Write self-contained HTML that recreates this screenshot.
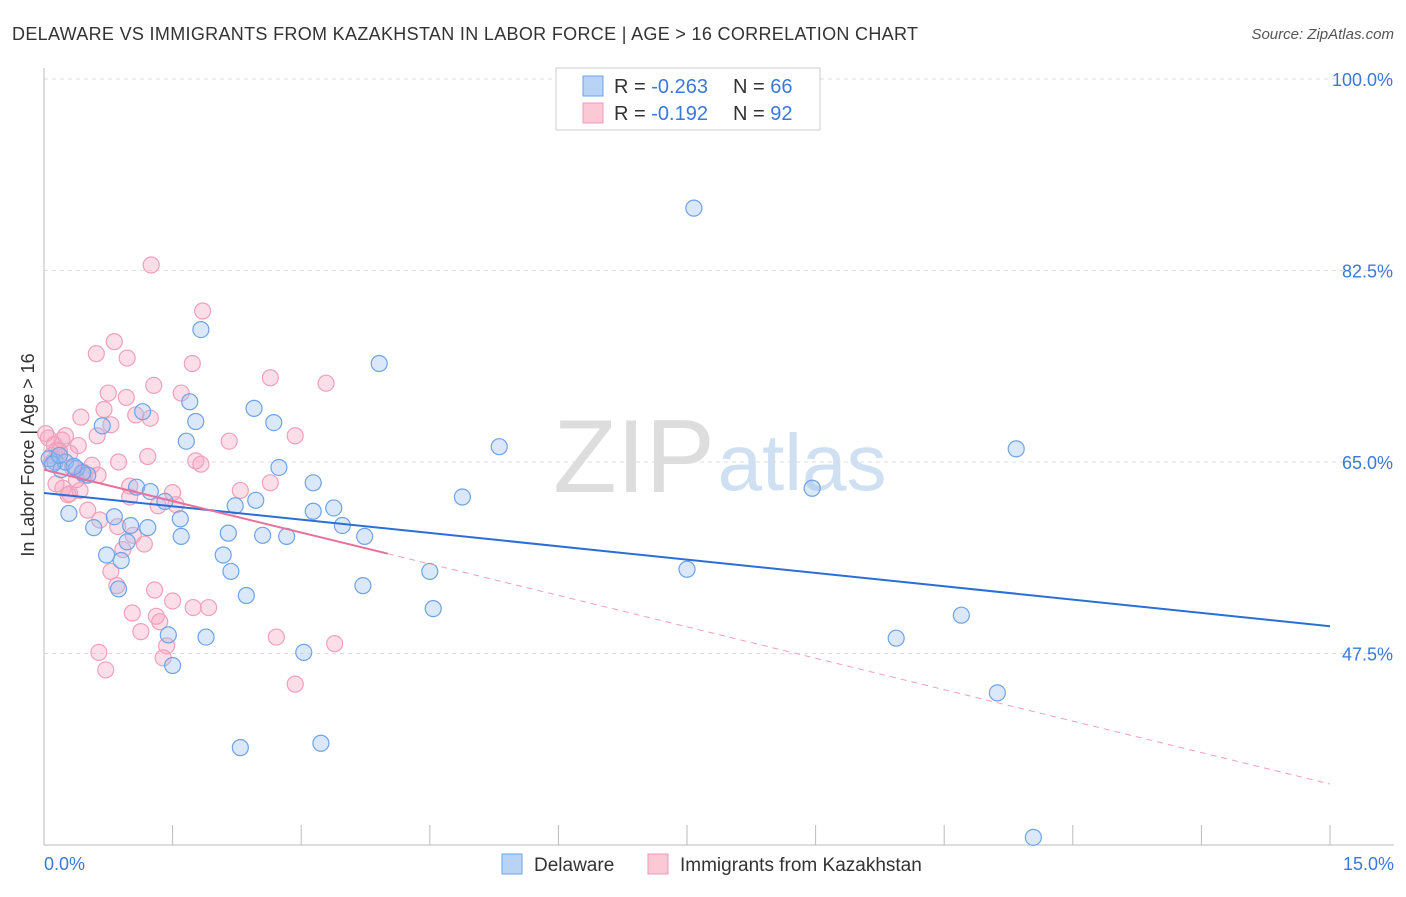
<!DOCTYPE html>
<html><head><meta charset="utf-8"><style>
body{margin:0;background:#fff;font-family:"Liberation Sans",sans-serif;}
svg text{font-family:"Liberation Sans",sans-serif;}
</style></head><body>
<svg id="c" width="1406" height="892">
<text x="12" y="40" font-size="18" fill="#333" textLength="906">DELAWARE VS IMMIGRANTS FROM KAZAKHSTAN IN LABOR FORCE | AGE &gt; 16 CORRELATION CHART</text>
<text x="1394" y="39" font-size="15" fill="#555" font-style="italic" text-anchor="end">Source: ZipAtlas.com</text>
<text x="634" y="492" font-size="104" fill="#ddd" font-family="Liberation Serif" text-anchor="middle">ZIP</text>
<text x="802" y="490" font-size="80" fill="#cfe0f3" text-anchor="middle">atlas</text>
<text transform="translate(34,455) rotate(-90)" font-size="18" fill="#333" text-anchor="middle">In Labor Force | Age &gt; 16</text>
<g id="grid"></g><g id="pts"></g><g id="lines"></g>
<g>
<rect x="556" y="68" width="264" height="62" fill="#fff" stroke="#ccc"/>
<rect x="583" y="76" width="20" height="20" fill="#b8d3f5" stroke="#6ea3e6"/>
<rect x="583" y="103" width="20" height="20" fill="#fbc8d6" stroke="#ef9ab4"/>
<text x="614" y="93" font-size="20" fill="#333">R = <tspan fill="#3b78d8">-0.263</tspan><tspan x="733">N = </tspan><tspan fill="#3b78d8">66</tspan></text>
<text x="614" y="120" font-size="20" fill="#333">R = <tspan fill="#3b78d8"> -0.192</tspan><tspan x="733">N = </tspan><tspan fill="#3b78d8">92</tspan></text>
</g>
<g>
<rect x="502" y="854" width="20" height="20" fill="#b8d3f5" stroke="#6ea3e6"/>
<text x="534" y="871" font-size="19" fill="#333">Delaware</text>
<rect x="648" y="854" width="20" height="20" fill="#fbc8d6" stroke="#ef9ab4"/>
<text x="680" y="871" font-size="19" fill="#333">Immigrants from Kazakhstan</text>
</g>
</svg>
<script>
const yTicks=[100,82.5,65,47.5];
const xTickLabels=["0.0%","15.0%"];
const blueX=[7.58,1.83,3.91,1.70,2.45,1.15,2.68,1.77,0.68,1.66,5.31,11.34,0.13,2.74,0.20,0.51,3.14,1.08,1.24,8.96,4.88,2.47,1.41,2.23,3.38,0.29,0.82,3.14,1.59,3.48,1.01,1.21,0.58,2.15,2.55,2.83,1.60,3.74,0.97,0.73,2.09,0.90,2.18,4.50,7.50,3.72,0.87,2.36,4.54,10.70,1.45,1.89,9.94,3.03,1.50,11.12,3.23,2.29,11.54,0.06,0.25,0.38,0.10,0.45,0.18,0.35];
const blueY=[88.2,77.1,74.0,70.5,69.9,69.6,68.6,68.7,68.3,66.9,66.4,66.2,65.0,64.5,64.3,63.8,63.1,62.7,62.3,62.6,61.8,61.5,61.4,61.0,60.8,60.3,60.0,60.5,59.8,59.2,59.2,59.0,59.0,58.5,58.3,58.2,58.2,58.2,57.7,56.5,56.5,56.0,55.0,55.0,55.2,53.7,53.4,52.8,51.6,51.0,49.2,49.0,48.9,47.6,46.4,43.9,39.3,38.9,30.7,65.3,65.0,64.4,64.8,64.0,65.6,64.6];
const pinkX=[1.25,1.85,0.82,0.61,0.97,1.73,2.64,3.29,1.28,0.75,1.60,0.96,0.70,1.07,1.24,0.43,0.78,0.62,2.93,2.16,0.02,0.21,0.40,0.15,1.21,1.77,1.83,0.87,0.56,0.09,0.33,0.63,0.47,1.00,0.42,1.50,0.30,1.00,2.29,2.64,1.54,1.33,0.51,0.65,0.86,1.04,1.17,0.92,0.78,1.29,0.85,1.50,1.92,1.74,1.03,1.31,1.35,1.13,2.71,1.43,3.39,0.64,1.39,0.72,2.93,0.05,0.12,0.25,0.18,0.30,0.08,0.38,0.22,0.14,0.45,0.28];
const pinkY=[83.0,78.8,76.0,74.9,74.5,74.0,72.7,72.2,72.0,71.3,71.3,70.9,69.8,69.3,69.0,69.1,68.4,67.4,67.4,66.9,67.6,67.0,66.5,66.1,65.5,65.1,64.8,65.0,64.7,65.6,64.5,63.8,63.8,62.8,62.4,62.2,62.1,61.8,62.4,63.1,61.1,61.0,60.6,59.7,59.1,58.3,57.5,57.0,55.0,53.3,53.7,52.3,51.7,51.7,51.2,50.9,50.4,49.5,49.0,48.2,48.4,47.6,47.1,46.0,44.7,67.2,66.6,67.4,66.0,65.8,64.9,63.4,62.6,63.0,64.1,62.0];
const blueFit=[62.17,-0.812];
const pinkFit=[64.3,-1.915];
const ns="http://www.w3.org/2000/svg";
const X=v=>44+v/15*1286;
const Y=v=>79+(100-v)/17.5*191.5;
function mk(t,a,p){const e=document.createElementNS(ns,t);for(const k in a)e.setAttribute(k,a[k]);p.appendChild(e);return e;}
const g=document.getElementById('grid');
yTicks.forEach(t=>{
 const l=mk('line',{x1:44,x2:1394,y1:Y(t),y2:Y(t),stroke:'#ddd','stroke-dasharray':'4,4'},g);
 
 
 const tx=mk('text',{x:1393,y:Y(t)+7,'font-size':18,fill:'#3b78d8','text-anchor':'end'},g);
 tx.textContent=t.toFixed(1)+'%';
 
 
});
const ax=mk('line',{x1:44,x2:1394,y1:845,y2:845,stroke:'#bbb'},g);


const ay=mk('line',{x1:44,x2:44,y1:68,y2:845,stroke:'#bbb'},g);


for(let i=0;i<=10;i++){const t=mk('line',{x1:X(i*1.5),x2:X(i*1.5),y1:825,y2:845,stroke:'#bbb'},g);
 
 }
xTickLabels.forEach((s,i)=>{const t=mk('text',{x:i?1394:44,y:870,'font-size':18,fill:'#3b78d8','text-anchor':i?'end':'start'},g);t.textContent=s;
 
 });
const P=document.getElementById('pts');
pinkX.forEach((x,i)=>{const c=mk('circle',{cx:X(x),cy:Y(pinkY[i]),r:8,fill:'rgba(246,160,188,0.35)',stroke:'#f0a0bb','stroke-width':1.2},P);
 
 });
blueX.forEach((x,i)=>{const c=mk('circle',{cx:X(x),cy:Y(blueY[i]),r:8,fill:'rgba(150,190,240,0.35)',stroke:'#6ea3e6','stroke-width':1.2},P);
 
 });
const L=document.getElementById('lines');
const bl=mk('line',{x1:X(0),y1:Y(blueFit[0]),x2:X(15),y2:Y(blueFit[0]+15*blueFit[1]),stroke:'#2a6fd6','stroke-width':2},L);


const pl=mk('line',{x1:X(0),y1:Y(pinkFit[0]),x2:X(4.01),y2:Y(pinkFit[0]+4.01*pinkFit[1]),stroke:'#e8709a','stroke-width':2},L);


const pd=mk('line',{x1:X(4.01),y1:Y(pinkFit[0]+4.01*pinkFit[1]),x2:X(15),y2:Y(pinkFit[0]+15*pinkFit[1]),stroke:'#eea0b8','stroke-width':1,'stroke-dasharray':'6,5'},L);


</script>
</body></html>
